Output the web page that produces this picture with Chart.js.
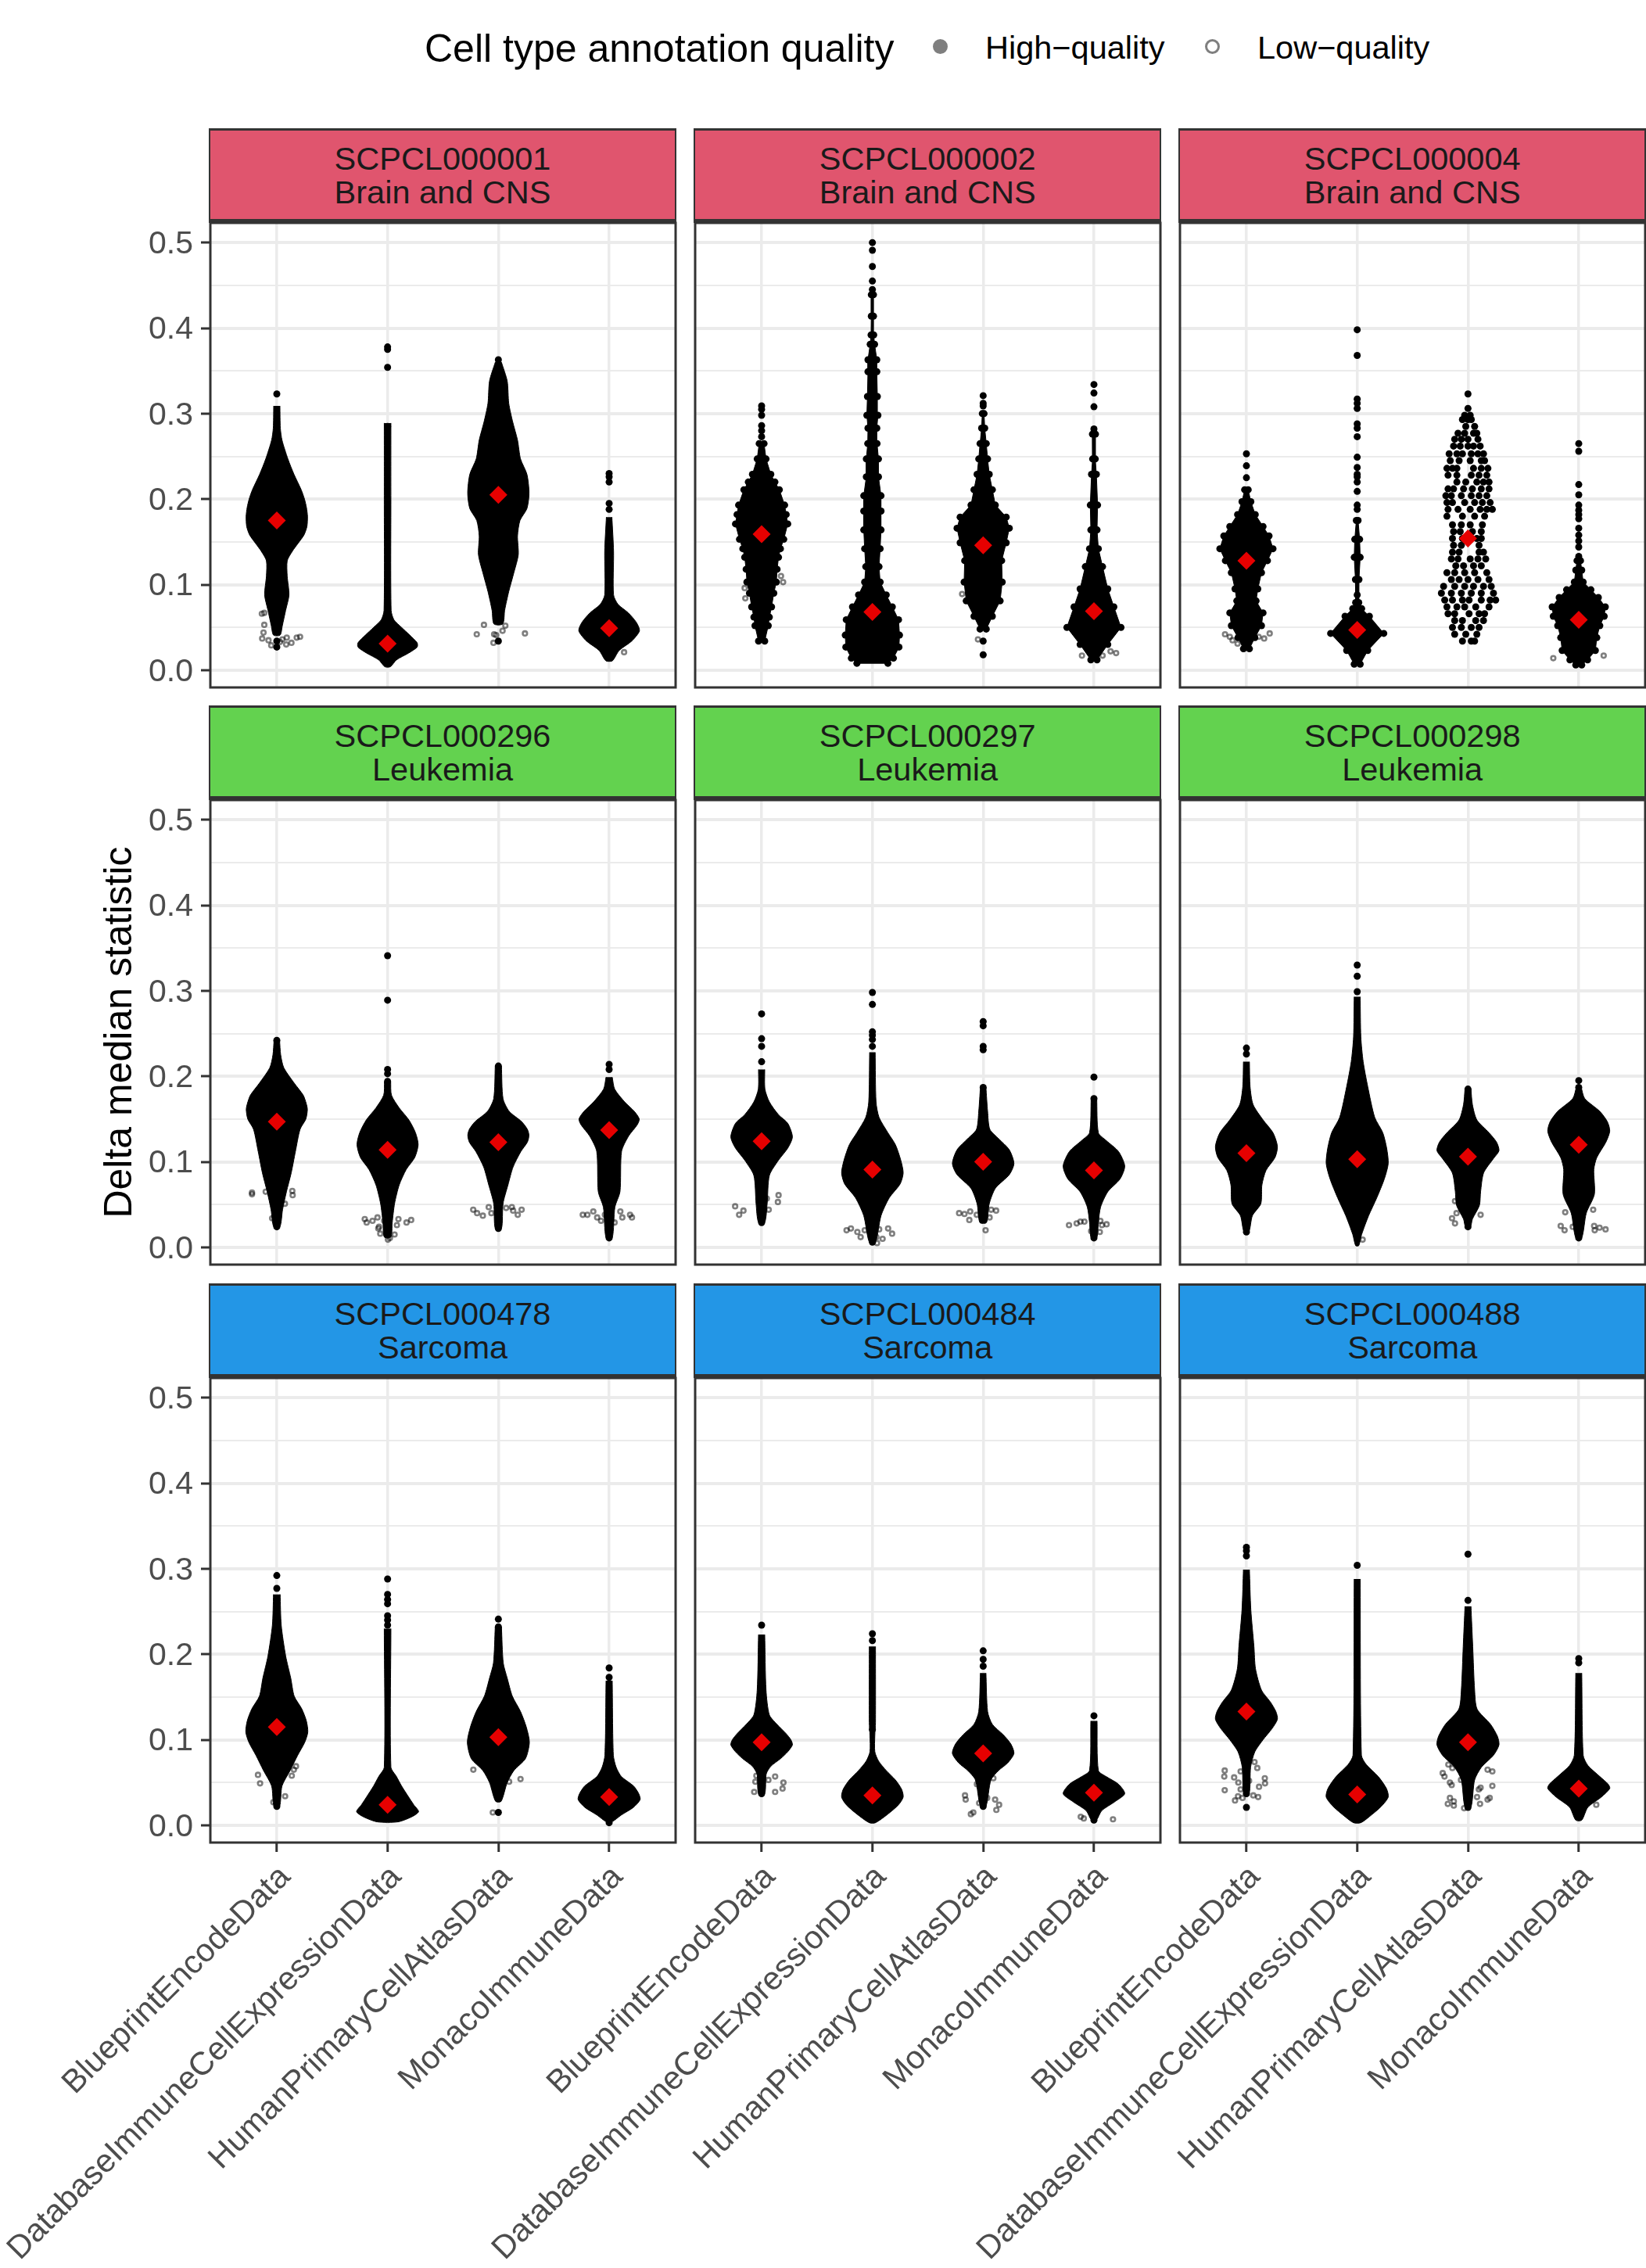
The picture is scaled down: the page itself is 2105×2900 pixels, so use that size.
<!DOCTYPE html>
<html>
<head>
<meta charset="utf-8">
<title>Delta median statistic</title>
<script src="https://cdn.jsdelivr.net/npm/chart.js@4/dist/chart.umd.js"></script>
<style>
  html, body { margin: 0; padding: 0; background: #fff; }
  #page { position: relative; width: 2105px; height: 2900px; overflow: hidden; font-family: "Liberation Sans", Arial, sans-serif; }
  canvas { position: absolute; }
  .strip { position: absolute; box-sizing: border-box; border: 2px solid #333; border-top-width: 3px; border-bottom-width: 5px;
    text-align: center; font-size: 41.5px; line-height: 43px; color: #1a1a1a; padding-top: 14px; }
  .lg { position: absolute; color: #000; white-space: nowrap; }
  .dot { position: absolute; box-sizing: border-box; border-radius: 50%; }
</style>
</head>
<body>
<div id="page"></div>
<script>
const categories = ['BlueprintEncodeData', 'DatabaseImmuneCellExpressionData', 'HumanPrimaryCellAtlasData', 'MonacoImmuneData'];
const yTicks = [0, 0.05, 0.1, 0.15, 0.2, 0.25, 0.3, 0.35, 0.4, 0.45, 0.5];
const yLabels = [0, 0.1, 0.2, 0.3, 0.4, 0.5];
const libraries = ['SCPCL000001', 'SCPCL000002', 'SCPCL000004', 'SCPCL000296', 'SCPCL000297', 'SCPCL000298', 'SCPCL000478', 'SCPCL000484', 'SCPCL000488'];
const diagnoses = ['Brain and CNS', 'Brain and CNS', 'Brain and CNS', 'Leukemia', 'Leukemia', 'Leukemia', 'Sarcoma', 'Sarcoma', 'Sarcoma'];
const stripColors = ['#e0556e', '#63d24f', '#2396e6'];

// mean of each swarm (red diamonds)
const means_000001 = [0.175, 0.031, 0.205, 0.049];
const means_000002 = [0.159, 0.068, 0.146, 0.069];
const means_000004 = [0.128, 0.047, 0.154, 0.059];
const means_000296 = [0.147, 0.114, 0.123, 0.137];
const means_000297 = [0.124, 0.091, 0.1, 0.09];
const means_000298 = [0.11, 0.103, 0.106, 0.12];
const means_000478 = [0.115, 0.024, 0.103, 0.033];
const means_000484 = [0.097, 0.035, 0.084, 0.038];
const means_000488 = [0.133, 0.036, 0.097, 0.043];

// swarm outline: [y, half width in category units]
const rows_000001 = [
  [[0.309,0.028],[0.283,0.032],[0.269,0.047],[0.247,0.1],[0.229,0.155],[0.211,0.22],[0.2,0.25],[0.19,0.268],[0.18,0.277],[0.168,0.272],[0.158,0.245],[0.148,0.19],[0.139,0.14],[0.128,0.094],[0.11,0.094],[0.088,0.11],[0.07,0.08],[0.052,0.05],[0.041,0.03]],
  [[0.289,0.03],[0.2,0.03],[0.07,0.032],[0.059,0.057],[0.05,0.126],[0.041,0.2],[0.032,0.267],[0.027,0.267],[0.02,0.19],[0.012,0.08],[0.004,0.025]],
  [[0.36,0.028],[0.338,0.08],[0.312,0.094],[0.29,0.13],[0.269,0.173],[0.247,0.2],[0.229,0.258],[0.207,0.277],[0.189,0.258],[0.175,0.195],[0.157,0.173],[0.135,0.18],[0.114,0.14],[0.092,0.094],[0.07,0.057],[0.054,0.04]],
  [[0.179,0.025],[0.139,0.04],[0.088,0.04],[0.077,0.08],[0.067,0.173],[0.056,0.245],[0.046,0.274],[0.034,0.204],[0.023,0.09],[0.011,0.03]]
];
const rows_000002 = [
  [[0.265,0.022],[0.247,0.04],[0.229,0.083],[0.22,0.12],[0.211,0.16],[0.193,0.208],[0.182,0.222],[0.171,0.236],[0.153,0.2],[0.142,0.17],[0.132,0.153],[0.118,0.14],[0.103,0.133],[0.09,0.11],[0.074,0.09],[0.062,0.07],[0.052,0.06],[0.034,0.028]],
  [[0.439,0.01],[0.414,0.01],[0.392,0.012],[0.381,0.02],[0.363,0.04],[0.349,0.04],[0.32,0.045],[0.298,0.05],[0.283,0.04],[0.265,0.042],[0.247,0.055],[0.226,0.055],[0.204,0.078],[0.186,0.078],[0.164,0.078],[0.142,0.07],[0.121,0.06],[0.103,0.07],[0.088,0.125],[0.074,0.18],[0.059,0.236],[0.041,0.245],[0.027,0.24],[0.014,0.19],[0.008,0.14]],
  [[0.3,0.008],[0.283,0.014],[0.265,0.028],[0.247,0.04],[0.229,0.055],[0.211,0.083],[0.193,0.11],[0.179,0.208],[0.166,0.236],[0.149,0.208],[0.128,0.167],[0.103,0.172],[0.081,0.153],[0.063,0.083],[0.048,0.028]],
  [[0.276,0.014],[0.247,0.012],[0.229,0.022],[0.193,0.033],[0.164,0.028],[0.142,0.04],[0.121,0.078],[0.095,0.125],[0.074,0.18],[0.05,0.244],[0.03,0.125],[0.012,0.028]]
];
const rows_000004 = [
  [[0.211,0.016],[0.197,0.04],[0.182,0.08],[0.168,0.15],[0.157,0.204],[0.142,0.24],[0.128,0.19],[0.114,0.136],[0.095,0.103],[0.081,0.087],[0.067,0.15],[0.052,0.136],[0.038,0.076],[0.025,0.027]],
  [[0.175,0.008],[0.153,0.022],[0.132,0.027],[0.106,0.016],[0.079,0.014],[0.072,0.04],[0.063,0.11],[0.043,0.24],[0.023,0.095],[0.007,0.027]],
  [],
  [[0.128,0.016],[0.117,0.027],[0.103,0.04],[0.094,0.11],[0.085,0.177],[0.074,0.24],[0.063,0.23],[0.052,0.19],[0.038,0.163],[0.023,0.15],[0.012,0.08],[0.006,0.027]]
];
const rows_000296 = [
  [[0.242,0.025],[0.225,0.035],[0.21,0.063],[0.192,0.157],[0.178,0.238],[0.168,0.266],[0.161,0.276],[0.15,0.262],[0.138,0.21],[0.112,0.168],[0.087,0.13],[0.065,0.087],[0.044,0.052],[0.024,0.028]],
  [[0.194,0.028],[0.178,0.035],[0.163,0.105],[0.149,0.192],[0.134,0.252],[0.12,0.276],[0.105,0.245],[0.091,0.168],[0.073,0.105],[0.051,0.063],[0.029,0.042],[0.012,0.03]],
  [[0.212,0.028],[0.174,0.042],[0.159,0.098],[0.147,0.21],[0.138,0.262],[0.131,0.276],[0.123,0.262],[0.112,0.203],[0.094,0.133],[0.073,0.087],[0.051,0.042],[0.022,0.028]],
  [[0.199,0.028],[0.185,0.05],[0.17,0.14],[0.159,0.227],[0.15,0.272],[0.143,0.252],[0.13,0.175],[0.112,0.112],[0.065,0.098],[0.047,0.052],[0.011,0.028]]
];
const rows_000297 = [
  [[0.208,0.028],[0.185,0.03],[0.17,0.07],[0.155,0.153],[0.145,0.236],[0.129,0.278],[0.116,0.236],[0.102,0.153],[0.084,0.07],[0.051,0.05],[0.029,0.028]],
  [[0.228,0.025],[0.17,0.033],[0.152,0.06],[0.134,0.14],[0.12,0.208],[0.102,0.256],[0.087,0.278],[0.074,0.25],[0.058,0.153],[0.037,0.078],[0.006,0.028]],
  [[0.187,0.025],[0.159,0.04],[0.138,0.06],[0.127,0.14],[0.114,0.236],[0.098,0.278],[0.085,0.236],[0.069,0.11],[0.051,0.055],[0.029,0.03]],
  [[0.174,0.025],[0.134,0.04],[0.125,0.11],[0.112,0.222],[0.095,0.278],[0.08,0.236],[0.065,0.125],[0.047,0.06],[0.029,0.04],[0.011,0.025]]
];
const rows_000298 = [
  [[0.217,0.027],[0.188,0.033],[0.167,0.06],[0.149,0.15],[0.134,0.24],[0.118,0.28],[0.105,0.258],[0.09,0.177],[0.073,0.14],[0.051,0.13],[0.037,0.054],[0.018,0.022]],
  [[0.293,0.027],[0.246,0.033],[0.217,0.054],[0.188,0.095],[0.152,0.158],[0.134,0.231],[0.116,0.266],[0.098,0.28],[0.08,0.245],[0.058,0.177],[0.037,0.103],[0.015,0.04],[0.002,0.014]],
  [[0.185,0.027],[0.167,0.04],[0.149,0.08],[0.134,0.19],[0.123,0.258],[0.113,0.28],[0.104,0.231],[0.087,0.141],[0.065,0.114],[0.049,0.103],[0.033,0.04],[0.024,0.022]],
  [[0.187,0.022],[0.174,0.054],[0.159,0.19],[0.147,0.258],[0.136,0.28],[0.123,0.245],[0.105,0.163],[0.091,0.136],[0.062,0.141],[0.04,0.068],[0.011,0.027]]
];
const rows_000478 = [
  [[0.27,0.03],[0.234,0.04],[0.198,0.08],[0.172,0.126],[0.151,0.157],[0.136,0.226],[0.122,0.267],[0.109,0.28],[0.097,0.252],[0.082,0.189],[0.064,0.12],[0.046,0.047],[0.022,0.025]],
  [[0.23,0.03],[0.068,0.03],[0.057,0.08],[0.046,0.126],[0.033,0.19],[0.024,0.236],[0.016,0.28],[0.01,0.22],[0.004,0.094]],
  [[0.232,0.028],[0.19,0.044],[0.172,0.08],[0.151,0.126],[0.133,0.2],[0.115,0.252],[0.097,0.28],[0.078,0.245],[0.064,0.14],[0.05,0.08],[0.028,0.025]],
  [[0.169,0.028],[0.082,0.038],[0.068,0.063],[0.057,0.11],[0.046,0.22],[0.037,0.267],[0.03,0.28],[0.021,0.22],[0.012,0.11],[0.004,0.025]]
];
const rows_000484 = [
  [[0.223,0.028],[0.158,0.04],[0.129,0.07],[0.118,0.139],[0.107,0.222],[0.1,0.264],[0.094,0.278],[0.086,0.236],[0.078,0.172],[0.069,0.083],[0.06,0.042],[0.037,0.028]],
  [[0.209,0.028],[0.12,0.028],[0.105,0.022],[0.086,0.022],[0.075,0.056],[0.064,0.125],[0.053,0.208],[0.042,0.264],[0.033,0.278],[0.024,0.236],[0.013,0.139],[0.003,0.028]],
  [[0.178,0.025],[0.133,0.04],[0.118,0.083],[0.106,0.18],[0.095,0.25],[0.084,0.278],[0.073,0.222],[0.064,0.139],[0.053,0.07],[0.022,0.025]],
  [[0.122,0.028],[0.064,0.04],[0.057,0.11],[0.048,0.222],[0.037,0.278],[0.028,0.194],[0.017,0.07],[0.006,0.022]]
];
const rows_000488 = [
  [[0.299,0.027],[0.252,0.04],[0.209,0.068],[0.183,0.082],[0.158,0.136],[0.144,0.217],[0.133,0.266],[0.124,0.28],[0.113,0.231],[0.1,0.15],[0.086,0.076],[0.068,0.038],[0.037,0.025]],
  [[0.288,0.027],[0.082,0.038],[0.071,0.082],[0.057,0.19],[0.043,0.264],[0.033,0.28],[0.022,0.217],[0.01,0.109],[0.003,0.033]],
  [[0.256,0.027],[0.209,0.043],[0.158,0.06],[0.136,0.082],[0.118,0.204],[0.104,0.266],[0.094,0.28],[0.082,0.231],[0.068,0.122],[0.053,0.06],[0.021,0.027]],
  [[0.178,0.027],[0.082,0.04],[0.07,0.082],[0.057,0.19],[0.048,0.266],[0.043,0.28],[0.033,0.204],[0.021,0.082],[0.006,0.027]]
];

// lone high-quality cells on the centre line, one list per category
const dots_000001 = [[0.323,0.034,0.027], [0.378,0.375,0.354,0.285], [0.363,0.358,0.034], [0.23,0.226,0.22,0.195,0.188]];
const dots_000002 = [[0.309,0.305,0.298,0.286,0.28,0.273], [0.5,0.491,0.472,0.455,0.445], [0.321,0.312,0.309,0.034,0.018], [0.334,0.324,0.308,0.282]];
const dots_000004 = [[0.253,0.239,0.225], [0.398,0.368,0.317,0.312,0.306,0.288,0.283,0.273,0.249,0.237,0.229,0.226,0.22,0.209,0.193,0.188,0.088], [0.323,0.306], [0.265,0.256,0.217,0.205,0.193,0.187,0.182,0.177,0.166,0.158,0.151,0.144,0.133]];
const dots_000296 = [[0.242,0.024], [0.341,0.289,0.208,0.203,0.194], [0.212,0.026,0.022], [0.214,0.208,0.011]];
const dots_000297 = [[0.273,0.244,0.235,0.217,0.029], [0.298,0.284,0.252,0.248,0.243,0.235,0.006], [0.264,0.259,0.235,0.231,0.187], [0.199,0.174,0.011]];
const dots_000298 = [[0.233,0.226,0.018], [0.33,0.317,0.299], [0.185,0.024], [0.195,0.187,0.011]];
const dots_000478 = [[0.292,0.277,0.022], [0.288,0.27,0.264,0.259,0.245,0.24,0.234], [0.241,0.232,0.224,0.219,0.015], [0.184,0.173,0.003]];
const dots_000484 = [[0.234,0.037], [0.224,0.216,0.112], [0.204,0.194,0.186,0.022], [0.128,0.006]];
const dots_000488 = [[0.325,0.321,0.315,0.037,0.021], [0.304], [0.317,0.263,0.021], [0.195,0.19]];

// the one swarm thin enough to read cell by cell: [offset from category, y]
const swarm_000004_hpca = [
  [-0.03,0.298],[0.02,0.298],[-0.05,0.293],[0,0.293],[0.03,0.293],[-0.02,0.285],[0.06,0.285],[-0.09,0.277],[-0.03,0.277],[0.05,0.277],[0.08,0.277],
  [-0.12,0.27],[-0.06,0.27],[0,0.27],[0.09,0.27],[-0.13,0.262],[-0.07,0.262],[0,0.262],[0.05,0.262],[0.11,0.262],
  [-0.17,0.253],[-0.1,0.253],[-0.05,0.253],[0.03,0.253],[0.09,0.253],[0.14,0.253],[-0.16,0.245],[-0.08,0.245],[0.02,0.245],[0.12,0.245],[0.15,0.245],
  [-0.19,0.236],[-0.14,0.236],[-0.1,0.236],[0.05,0.236],[0.12,0.236],[0.18,0.236],[-0.18,0.228],[-0.1,0.228],[0.03,0.228],[0.1,0.228],[0.17,0.228],
  [-0.1,0.22],[-0.02,0.22],[0.08,0.22],[0.14,0.22],[0.19,0.22],[-0.18,0.212],[-0.13,0.212],[-0.04,0.212],[0.04,0.212],[0.12,0.212],[0.19,0.212],
  [-0.2,0.204],[-0.15,0.204],[-0.06,0.204],[0.03,0.204],[0.1,0.204],[0.17,0.204],[-0.19,0.196],[-0.14,0.196],[-0.03,0.196],[0.06,0.196],[0.13,0.196],[0.2,0.196],
  [-0.18,0.188],[-0.09,0.188],[0.02,0.188],[0.11,0.188],[0.17,0.188],[0.22,0.188],[-0.19,0.18],[-0.05,0.18],[0.06,0.18],[0.15,0.18],
  [-0.14,0.17],[-0.06,0.17],[0.02,0.17],[0.13,0.17],[-0.13,0.162],[-0.07,0.162],[0.04,0.162],[0.12,0.162],[-0.14,0.154],[-0.05,0.154],[0.08,0.154],[0.12,0.154],
  [-0.13,0.146],[-0.06,0.146],[0.1,0.146],[-0.14,0.138],[-0.08,0.138],[0.1,0.138],[0.14,0.138],[-0.15,0.13],[-0.09,0.13],[0.02,0.13],[0.09,0.13],[0.16,0.13],
  [-0.11,0.122],[-0.04,0.122],[0.05,0.122],[0.12,0.122],[-0.19,0.114],[-0.12,0.114],[-0.03,0.114],[0.06,0.114],[0.17,0.114],
  [-0.15,0.106],[-0.08,0.106],[0,0.106],[0.09,0.106],[0.19,0.106],[-0.22,0.098],[-0.12,0.098],[-0.03,0.098],[0.05,0.098],[0.14,0.098],[0.21,0.098],
  [-0.24,0.09],[-0.15,0.09],[-0.06,0.09],[0.03,0.09],[0.12,0.09],[0.23,0.09],[-0.21,0.082],[-0.14,0.082],[-0.05,0.082],[0.01,0.082],[0.12,0.082],[0.2,0.082],[0.25,0.082],
  [-0.19,0.074],[-0.1,0.074],[-0.03,0.074],[0.07,0.074],[0.19,0.074],[-0.18,0.066],[-0.12,0.066],[0.01,0.066],[0.1,0.066],[0.15,0.066],
  [-0.12,0.058],[-0.05,0.058],[0.07,0.058],[0.14,0.058],[-0.14,0.05],[-0.06,0.05],[0.03,0.05],[0.1,0.05],[-0.12,0.042],[-0.02,0.042],[0.08,0.042],[-0.05,0.034],[0.03,0.034],[0.06,0.034]
];

// low-quality cells: [category, offset, y]
const low_000001 = [[1,-0.135,0.066],[1,-0.113,0.067],[1,-0.113,0.053],[1,-0.12,0.044],[1,-0.132,0.037],[1,-0.075,0.035],[1,-0.05,0.029],[1,0.03,0.033],[1,0.085,0.03],[1,0.09,0.038],[1,0.132,0.032],[1,0.18,0.038],[1,0.21,0.039],[1,0.05,0.036],
  [3,-0.195,0.042],[3,-0.13,0.053],[3,-0.038,0.042],[3,-0.02,0.041],[3,0.038,0.046],[3,0.063,0.052],[3,0.24,0.043],[3,-0.044,0.032],[4,0.135,0.021]];
const low_000002 = [[1,0.194,0.103],[1,0.175,0.11],[1,-0.153,0.096],[1,-0.147,0.084],[3,-0.047,0.036],[3,-0.19,0.089],[4,-0.108,0.017],[4,0.078,0.017],[4,0.15,0.022],[4,0.2,0.02]];
const low_000004 = [[1,-0.193,0.042],[1,-0.15,0.039],[1,-0.125,0.035],[1,-0.08,0.031],[1,0.11,0.039],[1,0.16,0.037],[1,0.21,0.043],[1,-0.024,0.025],[4,-0.23,0.014],[4,0.225,0.017]];
const low_000296 = [[1,-0.224,0.064],[1,-0.224,0.062],[1,-0.1,0.065],[1,0.14,0.066],[1,0.143,0.061],[1,0.073,0.051],[1,-0.042,0.034],
  [2,-0.206,0.033],[2,-0.189,0.029],[2,-0.136,0.031],[2,-0.091,0.035],[2,-0.077,0.024],[2,-0.066,0.016],[2,-0.031,0.031],[2,0.003,0.026],[2,0.021,0.011],[2,0.063,0.015],[2,0.098,0.033],[2,0.084,0.026],[2,0.171,0.029],[2,0.213,0.032],[2,0.003,0.009],[2,-0.084,0.022],
  [3,-0.227,0.044],[3,-0.192,0.04],[3,-0.14,0.037],[3,-0.087,0.047],[3,-0.063,0.04],[3,0.017,0.051],[3,0.07,0.046],[3,0.122,0.047],[3,0.175,0.038],[3,0.21,0.044],[3,0.133,0.043],
  [4,-0.238,0.038],[4,-0.196,0.038],[4,-0.143,0.042],[4,-0.108,0.035],[4,-0.073,0.031],[4,0.101,0.042],[4,0.119,0.035],[4,0.189,0.038],[4,0.206,0.035],[4,0.049,0.029],[4,-0.038,0.038]];
const low_000297 = [[1,-0.239,0.048],[1,-0.164,0.043],[1,-0.203,0.038],[1,0.153,0.061],[1,0.147,0.053],[1,0.064,0.044],[1,0.047,0.057],
  [2,-0.233,0.02],[2,-0.194,0.022],[2,-0.136,0.018],[2,-0.106,0.012],[2,-0.069,0.02],[2,0.061,0.021],[2,0.142,0.022],[2,0.178,0.016],[2,0.092,0.01],[2,0.036,0.012],[2,0.042,0.005],
  [3,-0.217,0.04],[3,-0.169,0.039],[3,-0.117,0.042],[3,-0.058,0.038],[3,-0.125,0.032],[3,0.072,0.044],[3,0.117,0.043],[3,0.058,0.035],[3,0.022,0.02],
  [4,-0.225,0.026],[4,-0.156,0.028],[4,-0.122,0.03],[4,-0.086,0.03],[4,0.058,0.031],[4,0.114,0.027],[4,0.072,0.026],[4,-0.025,0.019],[4,0.053,0.018]];
const low_000298 = [[2,0.049,0.009],[3,-0.144,0.034],[3,-0.117,0.028],[3,-0.103,0.04],[3,-0.117,0.054],[3,0.114,0.038],
  [4,-0.122,0.041],[4,-0.163,0.025],[4,-0.128,0.02],[4,-0.054,0.024],[4,0.13,0.044],[4,0.139,0.025],[4,0.188,0.023],[4,0.242,0.021],[4,0.144,0.02]];
const low_000478 = [[1,-0.17,0.059],[1,-0.151,0.049],[1,0.135,0.058],[1,0.154,0.065],[1,0.173,0.069],[1,0.075,0.034],[1,-0.031,0.027],[3,-0.226,0.065],[3,0.097,0.051],[3,0.2,0.054],[3,-0.05,0.015]];
const low_000484 = [[1,-0.067,0.039],[1,-0.056,0.051],[1,0.061,0.053],[1,0.122,0.057],[1,0.197,0.05],[1,0.189,0.043],[1,0.122,0.039],[1,-0.047,0.058],
  [3,-0.164,0.035],[3,-0.158,0.03],[3,-0.036,0.026],[3,0.036,0.032],[3,0.108,0.03],[3,0.144,0.024],[3,0.119,0.018],[3,-0.089,0.015],[3,-0.111,0.013],[3,0.092,0.055],[3,-0.056,0.048],
  [4,-0.119,0.01],[4,-0.092,0.008],[4,0.172,0.007]];
const low_000488 = [[1,-0.196,0.064],[1,-0.2,0.057],[1,-0.196,0.041],[1,-0.111,0.056],[1,-0.052,0.063],[1,-0.073,0.05],[1,-0.052,0.042],[1,-0.076,0.034],[1,-0.103,0.029],[1,-0.035,0.032],[1,0.062,0.035],[1,0.106,0.033],[1,0.114,0.045],[1,0.168,0.049],[1,0.166,0.055],[1,0.098,0.067],[1,0.073,0.074],[1,0.024,0.052],
  [3,-0.228,0.061],[3,-0.212,0.057],[3,-0.177,0.071],[3,-0.141,0.067],[3,-0.163,0.05],[3,-0.147,0.047],[3,-0.163,0.032],[3,-0.182,0.025],[3,-0.128,0.028],[3,-0.128,0.023],[3,-0.035,0.02],[3,0.109,0.025],[3,0.082,0.033],[3,0.114,0.044],[3,0.098,0.042],[3,0.22,0.046],[3,0.177,0.065],[3,0.22,0.063],[3,0.196,0.032],[3,0.177,0.03],[3,-0.063,0.053],
  [4,0.158,0.024]];

const allRows = [rows_000001, rows_000002, rows_000004, rows_000296, rows_000297, rows_000298, rows_000478, rows_000484, rows_000488];
const allDots = [dots_000001, dots_000002, dots_000004, dots_000296, dots_000297, dots_000298, dots_000478, dots_000484, dots_000488];
const allMeans = [means_000001, means_000002, means_000004, means_000296, means_000297, means_000298, means_000478, means_000484, means_000488];
const allLow = [low_000001, low_000002, low_000004, low_000296, low_000297, low_000298, low_000478, low_000484, low_000488];

// page layout
const panelLefts = [268.5, 888.7, 1508.7];
const panelTops = [285, 1023, 1762];
const panelW = 595;
const panelH = 594;
const leftRoom = 268;
const edgeRoom = 12; // Chart.js keeps at least the biggest point radius free round the plot
const stripH = 121;

Chart.defaults.font.family = '"Liberation Sans", Arial, sans-serif';
const page = document.getElementById('page');

const panelBorder = {
  id: 'panelBorder',
  afterDatasetsDraw(chart) {
    const { left, top, width, height } = chart.chartArea;
    const ctx = chart.ctx;
    ctx.save();
    ctx.strokeStyle = '#333333';
    ctx.lineWidth = 3;
    ctx.strokeRect(left, top, width, height);
    ctx.restore();
  },
};

function outline(cat, rows) {
  const left = rows.map((r) => ({ x: cat - r[1], y: r[0] }));
  const right = rows.map((r) => ({ x: cat + r[1], y: r[0] })).reverse();
  return left.concat(right);
}

// labels may run past the panel, the panel itself must stay where it is
function noScalePadding(scale) {
  scale.paddingLeft = 0;
  scale.paddingRight = 0;
  scale.paddingTop = 0;
  scale.paddingBottom = 0;
}

function createPanel(index) {
  const col = index % 3;
  const row = Math.floor(index / 3);
  const isBottom = row === 2;
  const isFirst = col === 0;
  const rough = row === 0 && col > 0;
  const bottomRoom = isBottom ? 2900 - panelTops[2] - panelH : edgeRoom;

  const canvas = document.createElement('canvas');
  canvas.width = leftRoom + panelW + edgeRoom;
  canvas.height = edgeRoom + panelH + bottomRoom;
  canvas.style.left = (panelLefts[col] - leftRoom) + 'px';
  canvas.style.top = (panelTops[row] - edgeRoom) + 'px';
  page.appendChild(canvas);

  // lower order is drawn on top
  const datasets = [];
  allRows[index].forEach((rows, c) => {
    if (!rows.length) return;
    datasets.push({
      order: 3,
      data: outline(c + 1, rows),
      showLine: true,
      fill: 'shape',
      backgroundColor: '#000',
      borderColor: '#000',
      borderWidth: 1,
      tension: rough ? 0 : 0.25,
      pointRadius: rough ? 4.5 : 0,
      pointBackgroundColor: '#000',
      pointBorderWidth: 0,
    });
  });

  const singles = [];
  allDots[index].forEach((ys, c) => ys.forEach((y) => singles.push({ x: c + 1, y })));
  if (index === 2) swarm_000004_hpca.forEach((p) => singles.push({ x: 3 + p[0], y: p[1] }));
  datasets.push({ order: 2, data: singles, pointRadius: 4.5, pointBackgroundColor: '#000', pointBorderWidth: 0 });

  datasets.push({
    order: 1,
    data: allLow[index].map((p) => ({ x: p[0] + p[1], y: p[2] })),
    pointRadius: 2.8,
    pointBackgroundColor: 'rgba(0,0,0,0)',
    pointBorderColor: 'rgba(0,0,0,0.5)',
    pointBorderWidth: 2.6,
  });

  datasets.push({
    order: 0,
    data: allMeans[index].map((y, c) => ({ x: c + 1, y })),
    pointStyle: 'rectRot',
    pointRadius: 11.5,
    pointBackgroundColor: '#e60000',
    pointBorderWidth: 0,
  });

  return new Chart(canvas, {
    type: 'scatter',
    data: { datasets },
    plugins: [panelBorder],
    options: {
      responsive: false,
      animation: false,
      devicePixelRatio: 1,
      events: [],
      layout: { padding: { left: 0, right: edgeRoom, top: edgeRoom, bottom: 0 } },
      plugins: { legend: { display: false }, tooltip: { enabled: false } },
      scales: {
        x: {
          type: 'linear',
          min: 0.4,
          max: 4.6,
          afterBuildTicks(scale) {
            scale.ticks = categories.map((c, i) => ({ value: i + 1 }));
          },
          afterFit(scale) {
            scale.height = bottomRoom;
            noScalePadding(scale);
          },
          border: { display: false },
          grid: {
            color: '#ebebeb',
            lineWidth: 3.5,
            drawTicks: isBottom,
            tickLength: 12,
            tickColor: '#333333',
            tickWidth: 3,
          },
          ticks: {
            display: isBottom,
            autoSkip: false,
            minRotation: 45,
            maxRotation: 45,
            padding: 8,
            labelOffset: 11,
            color: '#4d4d4d',
            font: { size: 41.5 },
            callback: (value) => categories[value - 1],
          },
        },
        y: {
          min: -0.0202,
          max: 0.523,
          afterBuildTicks(scale) {
            scale.ticks = yTicks.map((value) => ({ value }));
          },
          afterFit(scale) {
            scale.width = leftRoom;
            noScalePadding(scale);
          },
          border: { display: false },
          title: {
            display: index === 3,
            text: 'Delta median statistic',
            color: '#000',
            font: { size: 50 },
            padding: { top: 123, bottom: 0 },
          },
          grid: {
            color: '#ebebeb',
            lineWidth: (ctx) => (yLabels.includes(ctx.tick.value) ? 4 : 2),
            drawTicks: isFirst,
            tickLength: 12,
            tickColor: (ctx) => (yLabels.includes(ctx.tick.value) ? '#333333' : 'rgba(0,0,0,0)'),
            tickWidth: 3,
          },
          ticks: {
            display: isFirst,
            autoSkip: false,
            padding: 10,
            labelOffset: 2.5,
            color: '#4d4d4d',
            font: { size: 41 },
            callback: (value) => (yLabels.includes(value) ? value.toFixed(1) : ''),
          },
        },
      },
    },
  });
}

function addStrip(index) {
  const col = index % 3;
  const row = Math.floor(index / 3);
  const strip = document.createElement('div');
  strip.className = 'strip';
  strip.style.left = (panelLefts[col] - 1.5) + 'px';
  strip.style.top = (panelTops[row] - stripH) + 'px';
  strip.style.width = (panelW + 3) + 'px';
  strip.style.height = stripH + 'px';
  strip.style.background = stripColors[row];
  strip.innerHTML = libraries[index] + '<br>' + diagnoses[index];
  page.appendChild(strip);
}

function addLegendText(text, left, top, size) {
  const el = document.createElement('div');
  el.className = 'lg';
  el.style.left = left + 'px';
  el.style.top = top + 'px';
  el.style.fontSize = size + 'px';
  el.textContent = text;
  page.appendChild(el);
}

function addLegendDot(x, y, filled) {
  const el = document.createElement('div');
  el.className = 'dot';
  el.style.left = (x - 9.5) + 'px';
  el.style.top = (y - 9.5) + 'px';
  el.style.width = '19px';
  el.style.height = '19px';
  el.style.background = filled ? '#7f7f7f' : '#fff';
  el.style.border = '3px solid #7f7f7f';
  page.appendChild(el);
}

addLegendText('Cell type annotation quality', 543, 33, 50);
addLegendDot(1202, 59, true);
addLegendText('High\u2212quality', 1260, 37, 41.5);
addLegendDot(1550, 59, false);
addLegendText('Low\u2212quality', 1608, 37, 41.5);

libraries.forEach((id, i) => {
  addStrip(i);
  createPanel(i);
});
</script>
</body>
</html>
